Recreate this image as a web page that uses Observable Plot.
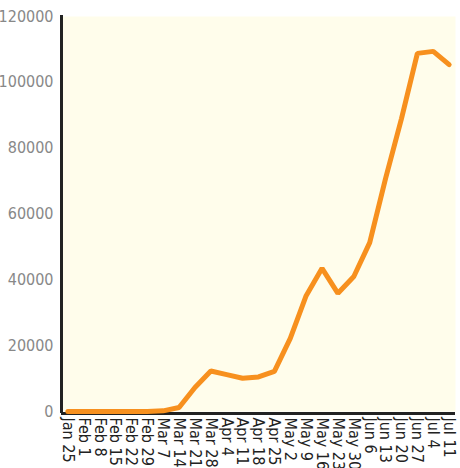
<!DOCTYPE html>
<html>
<head>
<meta charset="utf-8">
<script src="https://cdn.jsdelivr.net/npm/d3@7"></script>
<script src="https://cdn.jsdelivr.net/npm/@observablehq/plot@0.6"></script>
<style>
  html, body { margin: 0; padding: 0; background: #ffffff; }
  #chart svg { display: block; }
</style>
</head>
<body>
<div id="chart"></div>
<script>
const weeks = ["Jan 25","Feb 1","Feb 8","Feb 15","Feb 22","Feb 29","Mar 7","Mar 14","Mar 21","Mar 28",
  "Apr 4","Apr 11","Apr 18","Apr 25","May 2","May 9","May 16","May 23","May 30","Jun 6",
  "Jun 13","Jun 20","Jun 27","Jul 4","Jul 11"];
const cases = [0,0,0,0,0,0,200,1200,7300,12300,
  11200,10100,10500,12200,22200,35200,43500,35900,41000,51300,
  70800,89000,108800,109400,105400];
const yTicks = [0,20000,40000,60000,80000,100000,120000];

const data = weeks.map((w, i) => ({week: w, cases: cases[i]}));

const chart = Plot.plot({
  width: 460,
  height: 468,
  marginLeft: 61,
  marginRight: 5,
  marginTop: 16,
  marginBottom: 57,
  style: {fontFamily: "'DejaVu Sans Condensed', 'Liberation Sans Narrow', sans-serif", background: "#ffffff"},
  x: {type: "point", domain: weeks, padding: 0.4, round: false, label: null},
  y: {domain: [0, 120000], label: null},
  marks: [
    Plot.frame({fill: "#fffdeb", stroke: null}),
    Plot.axisY({ticks: yTicks, tickSize: 0, tickPadding: 8, tickFormat: d => String(d), fontSize: 16, fill: "#888", label: null}),
    Plot.axisX({tickSize: 0, tickRotate: 90, tickPadding: 6, fontSize: 16, fill: "#222", label: null}),
    Plot.frame({anchor: "left", stroke: "#222", strokeWidth: 3}),
    Plot.ruleY([0], {stroke: "#222", strokeWidth: 3, dy: 2}),
    Plot.line(data, {x: "week", y: "cases", stroke: "#f7901e", strokeWidth: 5, strokeLinejoin: "miter"})
  ]
});
document.getElementById("chart").appendChild(chart);
</script>
</body>
</html>
